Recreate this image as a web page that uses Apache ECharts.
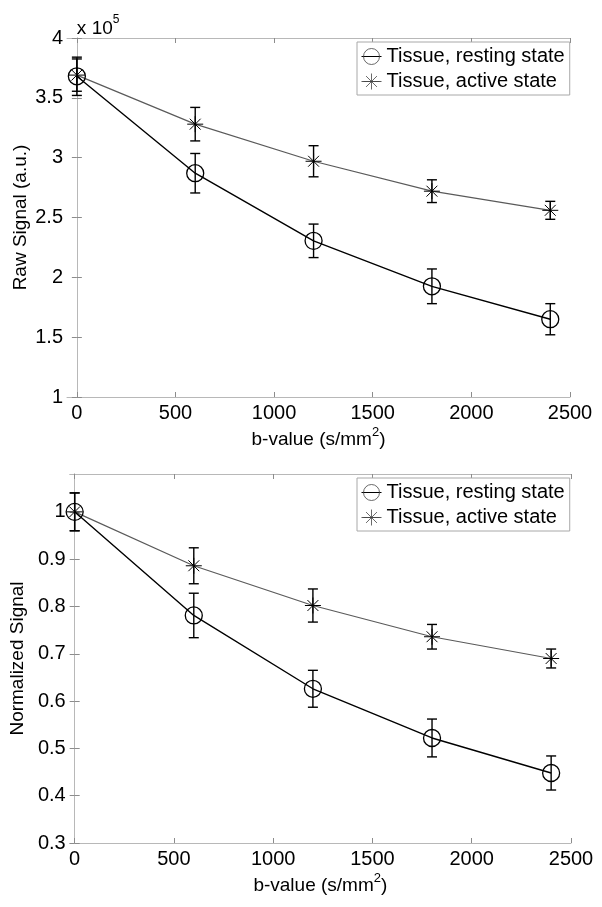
<!DOCTYPE html>
<html>
<head>
<meta charset="utf-8">
<script src="https://cdn.jsdelivr.net/npm/echarts@6/dist/echarts.min.js"></script>
<style>
html,body{margin:0;padding:0;background:#fff;}
#chart{width:602px;height:907px;}
</style>
</head>
<body>
<div id="chart"></div>
<script>
const bValues = [0, 600, 1200, 1800, 2400];
const seriesNames = ['Tissue, resting state', 'Tissue, active state'];

const rawResting = [368000, 287000, 230500, 192500, 165000];
const rawRestingErr = [16000, 16500, 14000, 14500, 13000];
const rawActive = [369000, 328000, 297000, 272000, 256000];
const rawActiveErr = [13500, 14000, 13000, 9500, 7500];

const normResting = [1.0, 0.781, 0.626, 0.522, 0.448];
const normRestingErr = [0.040, 0.047, 0.039, 0.040, 0.036];
const normActive = [1.0, 0.886, 0.802, 0.736, 0.690];
const normActiveErr = [0.040, 0.038, 0.035, 0.026, 0.020];

const xTicks = [0, 500, 1000, 1500, 2000, 2500];
const rawYTicks = [100000, 150000, 200000, 250000, 300000, 350000, 400000];
const normYTicks = [0.3, 0.4, 0.5, 0.6, 0.7, 0.8, 0.9, 1.0];

const FONT = "'Liberation Sans', Arial, Helvetica, sans-serif";
const AXIS_GRAY = '#b8b8b8';
const TICK_GRAY = '#8c8c8c';
const STAR = 'path://M0,5L10,5M5,0L5,10M1.6,1.6L8.4,8.4M8.4,1.6L1.6,8.4';

function pts(xs, ys) { return xs.map((x, i) => [x, ys[i]]); }
function errs(xs, ys, es) { return xs.map((x, i) => [x, ys[i] - es[i], ys[i] + es[i]]); }

function errRender(params, api) {
  const x = api.value(0), lo = api.value(1), hi = api.value(2);
  const a = api.coord([x, hi]);
  const b = api.coord([x, lo]);
  const w = 5;
  const st = { stroke: '#000', lineWidth: 1.4 };
  return {
    type: 'group',
    children: [
      { type: 'line', shape: { x1: a[0], y1: a[1], x2: b[0], y2: b[1] }, style: st },
      { type: 'line', shape: { x1: a[0] - w, y1: a[1], x2: a[0] + w, y2: a[1] }, style: st },
      { type: 'line', shape: { x1: b[0] - w, y1: b[1], x2: b[0] + w, y2: b[1] }, style: st }
    ]
  };
}

const labelStyle = { fontSize: 20, color: '#000', fontFamily: FONT };
const xFmt = v => String(Math.round(v));

function xAxisMain(grid, min) {
  return {
    gridIndex: grid, type: 'value', min: min, max: 2500, position: 'bottom',
    axisLine: { show: true, lineStyle: { color: AXIS_GRAY, width: 1 } },
    axisTick: { show: true, inside: true, length: 5, customValues: xTicks, lineStyle: { color: TICK_GRAY } },
    axisLabel: Object.assign({ customValues: xTicks, margin: 6, formatter: xFmt }, labelStyle),
    splitLine: { show: false },
    name: '{a|b-value (s/mm}{s|2}{a|)}',
    nameLocation: 'middle', nameGap: 28,
    nameTextStyle: {
      fontFamily: FONT, color: '#000',
      rich: {
        a: { fontSize: 19, fontFamily: FONT, color: '#000', lineHeight: 24, verticalAlign: 'bottom' },
        s: { fontSize: 13, fontFamily: FONT, color: '#000', verticalAlign: 'top', padding: [1, 0, 0, 0] }
      }
    }
  };
}
function xAxisTop(grid, min) {
  return {
    gridIndex: grid, type: 'value', min: min, max: 2500, position: 'top',
    axisLine: { show: true, lineStyle: { color: AXIS_GRAY, width: 1 } },
    axisTick: { show: true, inside: true, length: 5, customValues: xTicks, lineStyle: { color: TICK_GRAY } },
    axisLabel: { show: false },
    splitLine: { show: false }
  };
}
function yAxisMain(grid, min, max, ticks, fmt, extra) {
  return Object.assign({
    gridIndex: grid, type: 'value', min: min, max: max, position: 'left',
    axisLine: { show: true, lineStyle: { color: AXIS_GRAY, width: 1 } },
    axisTick: { show: true, inside: true, length: 5, customValues: ticks, lineStyle: { color: TICK_GRAY } },
    axisLabel: Object.assign({ customValues: ticks, margin: 4, formatter: fmt }, labelStyle),
    splitLine: { show: false }
  }, extra || {});
}
function yAxisRight(grid, min, max, ticks) {
  return {
    gridIndex: grid, type: 'value', min: min, max: max, position: 'right',
    axisLine: { show: true, lineStyle: { color: AXIS_GRAY, width: 1 } },
    axisTick: { show: true, inside: true, length: 5, customValues: ticks, lineStyle: { color: TICK_GRAY } },
    axisLabel: { show: false },
    splitLine: { show: false }
  };
}

const rawFmt = v => String(Math.round(v / 1e4) / 10);
const normFmt = v => String(+(+v).toFixed(2));

const legendBase = {
  data: seriesNames, orient: 'vertical', left: 357,
  itemWidth: 20, itemHeight: 20, itemGap: 4, padding: [4, 5, 3, 4],
  backgroundColor: '#fff', borderColor: '#a8a8a8', borderWidth: 1, borderRadius: 0,
  itemStyle: { borderWidth: 0.8, borderColor: '#444' },
  lineStyle: { width: 1 },
  textStyle: { fontSize: 20, color: '#000', fontFamily: FONT }, selectedMode: false
};

const option = {
  animation: false,
  backgroundColor: '#fff',
  textStyle: { fontFamily: FONT },
  grid: [
    { left: 67, top: 38, width: 503, height: 359, show: false },
    { left: 67, top: 474, width: 504, height: 369, show: false }
  ],
  legend: [
    Object.assign({}, legendBase, { top: 42 }),
    Object.assign({}, legendBase, { top: 478 })
  ],
  xAxis: [xAxisMain(0, -50), xAxisTop(0, -50), xAxisMain(1, -25), xAxisTop(1, -25)],
  yAxis: [
    yAxisMain(0, 100000, 400000, rawYTicks, rawFmt, {
      name: '{a|x 10}{s|5}', nameLocation: 'end', nameGap: 0,
      nameTextStyle: {
        align: 'left', verticalAlign: 'bottom', color: '#000', fontFamily: FONT,
        rich: {
          a: { fontSize: 19, fontFamily: FONT, color: '#000', lineHeight: 24, verticalAlign: 'bottom' },
          s: { fontSize: 12, fontFamily: FONT, color: '#000', verticalAlign: 'top' }
        }
      }
    }),
    yAxisRight(0, 100000, 400000, rawYTicks),
    yAxisMain(1, 0.3, 1.08, normYTicks, normFmt, {
      name: 'Normalized Signal', nameLocation: 'middle', nameGap: 37,
      nameTextStyle: { fontSize: 19, color: '#000', fontFamily: FONT }
    }),
    yAxisRight(1, 0.3, 1.08, normYTicks),
    {
      gridIndex: 0, type: 'value', min: 100000, max: 400000, position: 'left',
      axisLine: { show: false }, axisTick: { show: false }, axisLabel: { show: false }, splitLine: { show: false },
      name: 'Raw Signal (a.u.)', nameLocation: 'middle', nameGap: 37,
      nameTextStyle: { fontSize: 19, color: '#000', fontFamily: FONT }
    }
  ],
  series: [
    {
      name: seriesNames[1], type: 'line', xAxisIndex: 0, yAxisIndex: 0,
      data: pts(bValues, rawActive), symbol: STAR, symbolSize: 16,
      lineStyle: { color: '#5a5a5a', width: 1.2 },
      itemStyle: { color: 'none', borderColor: '#000', borderWidth: 1 }, z: 3
    },
    {
      name: seriesNames[0], type: 'line', xAxisIndex: 0, yAxisIndex: 0,
      data: pts(bValues, rawResting), symbol: 'circle', symbolSize: 17,
      lineStyle: { color: '#000', width: 1.4 },
      itemStyle: { color: 'none', borderColor: '#000', borderWidth: 1.3 }, z: 3
    },
    { type: 'custom', xAxisIndex: 0, yAxisIndex: 0, renderItem: errRender, data: errs(bValues, rawActive, rawActiveErr), encode: { x: 0, y: [1, 2] }, z: 4 },
    { type: 'custom', xAxisIndex: 0, yAxisIndex: 0, renderItem: errRender, data: errs(bValues, rawResting, rawRestingErr), encode: { x: 0, y: [1, 2] }, z: 4 },
    {
      name: seriesNames[1], type: 'line', xAxisIndex: 2, yAxisIndex: 2,
      data: pts(bValues, normActive), symbol: STAR, symbolSize: 16,
      lineStyle: { color: '#5a5a5a', width: 1.2 },
      itemStyle: { color: 'none', borderColor: '#000', borderWidth: 1 }, z: 3
    },
    {
      name: seriesNames[0], type: 'line', xAxisIndex: 2, yAxisIndex: 2,
      data: pts(bValues, normResting), symbol: 'circle', symbolSize: 17,
      lineStyle: { color: '#000', width: 1.4 },
      itemStyle: { color: 'none', borderColor: '#000', borderWidth: 1.3 }, z: 3
    },
    { type: 'custom', xAxisIndex: 2, yAxisIndex: 2, renderItem: errRender, data: errs(bValues, normActive, normActiveErr), encode: { x: 0, y: [1, 2] }, z: 4 },
    { type: 'custom', xAxisIndex: 2, yAxisIndex: 2, renderItem: errRender, data: errs(bValues, normResting, normRestingErr), encode: { x: 0, y: [1, 2] }, z: 4 }
  ]
};

const chart = echarts.init(document.getElementById('chart'), null, { renderer: 'canvas' });
chart.setOption(option);
</script>
</body>
</html>
